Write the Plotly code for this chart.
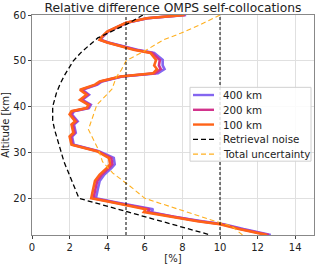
import plotly.graph_objects as go

# Altitudes [km] for the self-collocation difference profiles
alt = [60, 59.3, 58.3, 56.4, 55.2, 54.6, 54.0, 53.0, 52.4, 51.7, 50.2, 49.0, 48.2,
       47.3, 46.6, 45.5, 44.8, 43.7, 42.6, 41.5, 40.4, 39.7, 39.0, 38.3, 36.8, 36.1,
       34.3, 33.5, 31.7, 30.3, 28.8, 27.4, 26.7, 25.2, 23.8, 22.0, 20.0, 19.1, 17.6,
       17.0, 16.0, 15.0, 14.35, 13.3, 12.0]

diff_100 = [8.1, 6.1, 5.0, 4.0, 3.7, 3.6, 4.0, 4.9, 5.4, 6.3, 6.6, 6.5, 6.65,
            6.45, 4.7, 3.6, 3.35, 2.55, 2.9, 2.55, 3.0, 2.9, 2.1, 2.0, 2.3, 2.1,
            2.2, 2.0, 2.1, 3.45, 4.1, 4.15, 4.0, 3.6, 3.35, 3.25, 3.15, 4.3, 6.05,
            5.95, 7.3, 8.8, 10.0, 11.0, 12.5]

diff_200 = [8.15, 6.12, 5.02, 4.02, 3.72, 3.62, 4.03, 4.95, 5.5, 6.4, 6.8, 6.75, 6.85,
            6.55, 4.75, 3.66, 3.42, 2.62, 2.97, 2.62, 3.07, 2.97, 2.17, 2.07, 2.37, 2.17,
            2.27, 2.07, 2.16, 3.5, 4.22, 4.27, 4.12, 3.72, 3.47, 3.37, 3.27, 4.4, 6.25,
            6.12, 7.42, 8.92, 10.1, 11.1, 12.6]

diff_400 = [8.2, 6.15, 5.05, 4.05, 3.75, 3.65, 4.06, 5.0, 5.6, 6.5, 6.95, 6.95, 7.05,
            6.7, 4.8, 3.72, 3.48, 2.68, 3.03, 2.68, 3.13, 3.03, 2.23, 2.13, 2.43, 2.23,
            2.33, 2.13, 2.22, 3.55, 4.35, 4.4, 4.25, 3.85, 3.6, 3.5, 3.4, 4.5, 6.45,
            6.3, 7.55, 9.05, 10.2, 11.25, 12.7]

# Retrieval noise
alt_noise = [60, 58, 55, 52, 50, 47, 45, 43, 40, 37, 35, 32, 30, 28, 26, 24, 22, 20, 12]
noise = [5.9, 5.05, 3.5, 2.65, 2.2, 1.75, 1.5, 1.3, 1.1, 1.1, 1.2, 1.4, 1.55, 1.7, 1.9,
         2.1, 2.3, 2.5, 9.5]

# Total uncertainty
alt_total = [60, 57.8, 56, 54.6, 52.4, 50, 48, 46.6, 43.8, 41.5, 40.4, 35, 30.5, 28, 25.5,
             22.7, 20, 15, 14, 12]
total = [10.0, 8.9, 7.9, 7.0, 6.1, 5.0, 4.75, 4.5, 4.25, 3.7, 3.45, 3.0, 3.55, 3.75, 4.3,
         5.2, 6.0, 9.75, 10.6, 11.2]

ref_lines = [5, 10]
x_ticks = [0, 2, 4, 6, 8, 10, 12, 14]
y_ticks = [20, 30, 40, 50, 60]

series = [("400 km", diff_400, "#8466F0"),
          ("200 km", diff_200, "#D2338C"),
          ("100 km", diff_100, "#FF6318")]

DASH_LONG = "5px,3px"
fig = go.Figure()
legend_items = []
for name, vals, col in series:
    fig.add_trace(go.Scatter(x=vals, y=alt, mode="lines", name=name, showlegend=False,
                             line=dict(color=col, width=2.6)))
    legend_items.append((name, dict(color=col, width=2.4)))
fig.add_trace(go.Scatter(x=noise, y=alt_noise, mode="lines", name="Retrieval noise",
                         showlegend=False,
                         line=dict(color="black", width=1.3, dash=DASH_LONG)))
legend_items.append(("Retrieval noise", dict(color="black", width=1.3, dash=DASH_LONG)))
fig.add_trace(go.Scatter(x=total, y=alt_total, mode="lines", name="Total uncertainty",
                         showlegend=False,
                         line=dict(color="#FFB020", width=1.1, dash=DASH_LONG)))
legend_items.append(("Total uncertainty", dict(color="#FFB020", width=1.1, dash=DASH_LONG)))

for v in ref_lines:
    fig.add_vline(x=v, line=dict(color="black", width=1, dash="3px,2px"))

# Geometry of the plot area (pixels)
W, H = 320, 264
L, R, T, B = 32, 6, 15, 28.5
PW, PH = W - L - R, H - T - B


def px(xp):
    return (xp - L) / PW


def py(yp):
    return (H - B - yp) / PH


# Manual legend box (matplotlib-like compact spacing)
box_l, box_r, box_t, box_b = 190, 311, 87.5, 161.5
fig.add_shape(type="rect", xref="paper", yref="paper", x0=px(box_l), x1=px(box_r),
              y0=py(box_b), y1=py(box_t), fillcolor="rgba(255,255,255,0.85)",
              line=dict(color="#d0d0d0", width=1), layer="above")
row0, step = 95.2, 14.8
for i, (name, ln) in enumerate(legend_items):
    yc = row0 + i * step
    fig.add_shape(type="line", xref="paper", yref="paper", x0=px(193), x1=px(214),
                  y0=py(yc), y1=py(yc), line=ln, layer="above")
    fig.add_annotation(text=name, xref="paper", yref="paper", x=px(221), y=py(yc),
                       xanchor="left", yanchor="middle", showarrow=False,
                       font=dict(size=10.3, color="#222"))

font = "DejaVu Sans, sans-serif"
fig.update_layout(
    width=W, height=H,
    margin=dict(l=L, r=R, t=T, b=B),
    paper_bgcolor="white", plot_bgcolor="white",
    font=dict(family=font, size=10, color="#222"),
    title=dict(text="Relative difference OMPS self-collocations", x=0.5, xref="paper",
               xanchor="center", y=0.988, yref="container", yanchor="top",
               pad=dict(t=0, b=0), font=dict(size=12.3, color="#222")),
    showlegend=False,
)
fig.update_xaxes(range=[0, 15], tickvals=x_ticks, automargin=False,
                 showgrid=True, gridcolor="#e0e0e0", gridwidth=1,
                 showline=True, linecolor="#888", mirror=True, zeroline=False,
                 ticks="outside", ticklen=3, tickcolor="#444",
                 title=dict(text="[%]", standoff=1, font=dict(size=10)))
fig.update_yaxes(range=[12, 60], tickvals=y_ticks, automargin=False,
                 showgrid=True, gridcolor="#e0e0e0", gridwidth=1,
                 showline=True, linecolor="#888", mirror=True, zeroline=False,
                 ticks="outside", ticklen=3, tickcolor="#444",
                 title=dict(text="Altitude [km]", standoff=1, font=dict(size=10)))

fig.write_html("out.html", config={"displayModeBar": False},
               post_script="document.body.style.margin='0';document.body.style.padding='0';")
